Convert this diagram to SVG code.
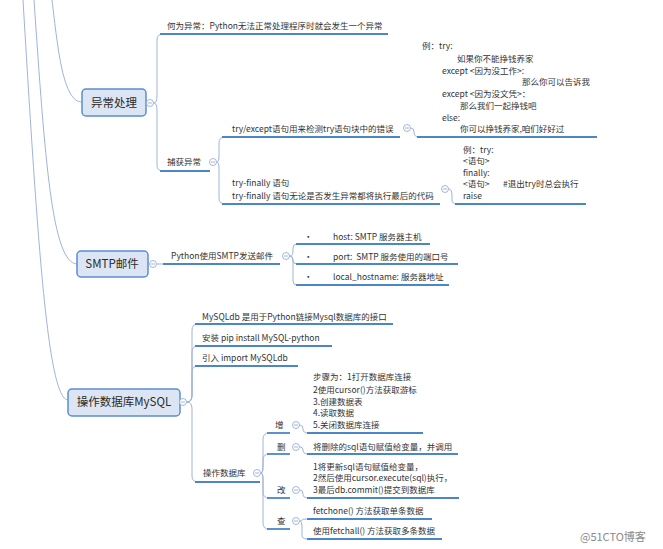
<svg xmlns="http://www.w3.org/2000/svg" xmlns:xlink="http://www.w3.org/1999/xlink" width="663" height="549" viewBox="0 0 663 549">
<style>
text{font-family:"Noto Sans CJK SC","Noto Sans",sans-serif;font-size:8.5px;fill:#333;white-space:pre}
.m{font-size:11.5px;text-anchor:middle;fill:#2b2b2b}
.ln{fill:none;stroke:#9fb4da;stroke-width:1}
.ul{fill:none;stroke:#4a86c8;stroke-width:1.8}
.box{fill:#dbe5f3;stroke:#5b8dd0;stroke-width:1.5}
.cc circle{fill:#fff;stroke:#8ca4cc;stroke-width:0.8}
.cc path{stroke:#8ca4cc;stroke-width:0.8}
.wm{font-size:11px;fill:#8a8a8a}
</style>
<defs>
<g id="col" class="cc"><circle r="3.5"/><path d="M-2,0H2"/></g>
</defs>
<rect width="663" height="549" fill="#fff"/>
<g id="connectors">
<path class="ln" d="M23,0 C38,250 48,399 68,400"/>
<path class="ln" d="M34,0 C45,160 52,263 77,264"/>
<path class="ln" d="M52,0 C58,50 63,102 82,102"/>
<path class="ln" d="M154,103 Q157,103 157,95 V40 Q157,34 163,34"/>
<path class="ln" d="M154,103 Q157,103 157,111 V165 Q157,171 163,171"/>
<path class="ln" d="M217,162 Q219,162 219,155 V143 Q219,137 225,137"/>
<path class="ln" d="M217,162 Q219,162 219,169 V198 Q219,204 225,204"/>
<path class="ln" d="M411,128 Q414,128 414,132 Q414,137 419,137"/>
<path class="ln" d="M449,189 Q452,189 452,196 V200 Q452,204 457,204"/>
<path class="ln" d="M157,264 H164"/>
<path class="ln" d="M290,256 Q293,256 293,251 V248 Q293,244 297,244"/>
<path class="ln" d="M290,256 Q293,256 293,260 Q293,264 297,264"/>
<path class="ln" d="M290,256 Q293,256 293,262 V281 Q293,285 297,285"/>
<path class="ln" d="M187,402 Q192,402 192,395 V330 Q192,324 198,324"/>
<path class="ln" d="M187,402 Q192,402 192,395 V352 Q192,346 198,346"/>
<path class="ln" d="M187,402 Q192,402 192,395 V372 Q192,366 198,366"/>
<path class="ln" d="M187,402 Q192,402 192,409 V476 Q192,482 198,482"/>
<path class="ln" d="M261,473 Q263,473 263,466 V439 Q263,433 269,433"/>
<path class="ln" d="M261,473 Q263,473 263,466 V460 Q263,454 269,454"/>
<path class="ln" d="M261,473 Q263,473 263,480 V492 Q263,498 269,498"/>
<path class="ln" d="M261,473 Q263,473 263,480 V523 Q263,529 269,529"/>
<path class="ln" d="M300,425 Q303,425 303,429 Q303,433 308,433"/>
<path class="ln" d="M300,447 Q303,447 303,450 Q303,454 308,454"/>
<path class="ln" d="M300,490 Q303,490 303,494 Q303,498 308,498"/>
<path class="ln" d="M300,521 Q302,521 302,520 Q302,519 307,519"/>
<path class="ln" d="M300,521 Q302,521 302,527 V535 Q302,539 307,539"/>
</g>
<g id="n-exc">
<rect class="box" x="82" y="89" width="64" height="27" rx="4"/>
<text class="m" x="114" y="107">异常处理</text>
<use xlink:href="#col" x="150" y="103"/>
</g>
<g id="n-what">
<path class="ul" d="M160,34 H388"/>
<text x="167" y="29">何为异常：Python无法正常处理程序时就会发生一个异常</text>
</g>
<g id="n-catch">
<path class="ul" d="M160,171 H210"/>
<text x="167" y="165">捕获异常</text>
<use xlink:href="#col" x="213" y="162"/>
</g>
<g id="n-tryexcept">
<path class="ul" d="M222,137 H400"/>
<text x="232" y="132">try/except语句用来检测try语句块中的错误</text>
<use xlink:href="#col" x="407" y="128"/>
</g>
<g id="n-ex1">
<path class="ul" d="M417,137 H597"/>
<text x="422" y="49">例：try:</text>
<text x="457" y="62">如果你不能挣钱养家</text>
<text x="442" y="74">except &lt;因为没工作&gt;:</text>
<text x="522" y="85">那么你可以告诉我</text>
<text x="442" y="97">except &lt;因为没文凭&gt;：</text>
<text x="460" y="109">那么我们一起挣钱吧</text>
<text x="442" y="121">else:</text>
<text x="460" y="132">你可以挣钱养家,咱们好好过</text>
</g>
<g id="n-tryfinally">
<path class="ul" d="M222,204 H440"/>
<text x="232" y="186">try-finally 语句</text>
<text x="232" y="199">try-finally 语句无论是否发生异常都将执行最后的代码</text>
<use xlink:href="#col" x="445" y="189"/>
</g>
<g id="n-ex2">
<path class="ul" d="M455,204 H586"/>
<text x="463" y="153">例：try:</text>
<text x="463" y="164">&lt;语句&gt;</text>
<text x="463" y="176">finally:</text>
<text x="463" y="187">&lt;语句&gt;</text>
<text x="503" y="187">#退出try时总会执行</text>
<text x="463" y="199">raise</text>
</g>
<g id="n-smtp">
<rect class="box" x="77" y="251" width="71" height="26" rx="4"/>
<text class="m" x="112" y="268">SMTP邮件</text>
<use xlink:href="#col" x="153" y="264"/>
</g>
<g id="n-smtpsend">
<path class="ul" d="M163,264 H280"/>
<text x="171" y="259">Python使用SMTP发送邮件</text>
<use xlink:href="#col" x="286" y="256"/>
</g>
<g id="n-host">
<path class="ul" d="M296,244 H430"/>
<text x="304" y="240">•</text>
<text x="333" y="240">host: SMTP 服务器主机</text>
</g>
<g id="n-port">
<path class="ul" d="M296,264 H458"/>
<text x="304" y="260">•</text>
<text x="333" y="260">port:  SMTP 服务使用的端口号</text>
</g>
<g id="n-local">
<path class="ul" d="M296,285 H449"/>
<text x="304" y="280">•</text>
<text x="333" y="280">local_hostname: 服务器地址</text>
</g>
<g id="n-mysql">
<rect class="box" x="68" y="389" width="112" height="27" rx="4"/>
<text class="m" x="124" y="406">操作数据库MySQL</text>
<use xlink:href="#col" x="183" y="402"/>
</g>
<g id="n-mysqldb">
<path class="ul" d="M195,324 H393"/>
<text x="202" y="320">MySQLdb 是用于Python链接Mysql数据库的接口</text>
</g>
<g id="n-install">
<path class="ul" d="M195,346 H332"/>
<text x="202" y="341">安装 pip install MySQL-python</text>
</g>
<g id="n-import">
<path class="ul" d="M195,366 H298"/>
<text x="202" y="361">引入 import MySQLdb</text>
</g>
<g id="n-op">
<path class="ul" d="M195,482 H260"/>
<text x="203" y="476">操作数据库</text>
<use xlink:href="#col" x="257" y="473"/>
</g>
<g id="n-add">
<path class="ul" d="M267,433 H290"/>
<text x="275" y="428">增</text>
<use xlink:href="#col" x="296" y="425"/>
</g>
<g id="n-steps">
<path class="ul" d="M307,433 H423"/>
<text x="313" y="380">步骤为：1打开数据库连接</text>
<text x="313" y="393">2使用cursor()方法获取游标</text>
<text x="313" y="405">3.创建数据表</text>
<text x="313" y="416">4.读取数据</text>
<text x="313" y="428">5.关闭数据库连接</text>
</g>
<g id="n-del">
<path class="ul" d="M267,454 H290"/>
<text x="277" y="450">删</text>
<use xlink:href="#col" x="296" y="447"/>
</g>
<g id="n-deltext">
<path class="ul" d="M307,454 H458"/>
<text x="313" y="450">将删除的sql语句赋值给变量，并调用</text>
</g>
<g id="n-upd">
<path class="ul" d="M267,498 H290"/>
<text x="277" y="493">改</text>
<use xlink:href="#col" x="296" y="490"/>
</g>
<g id="n-updtext">
<path class="ul" d="M307,498 H459"/>
<text x="313" y="470">1将更新sql语句赋值给变量，</text>
<text x="313" y="481">2然后使用cursor.execute(sql)执行，</text>
<text x="313" y="493">3最后db.commit()提交到数据库</text>
</g>
<g id="n-query">
<path class="ul" d="M267,529 H290"/>
<text x="277" y="524">查</text>
<use xlink:href="#col" x="296" y="521"/>
</g>
<g id="n-fetchone">
<path class="ul" d="M307,519 H432"/>
<text x="313" y="514">fetchone() 方法获取单条数据</text>
</g>
<g id="n-fetchall">
<path class="ul" d="M307,539 H442"/>
<text x="313" y="534">使用fetchall() 方法获取多条数据</text>
</g>
<text class="wm" x="580" y="541">@51CTO博客</text>
</svg>
